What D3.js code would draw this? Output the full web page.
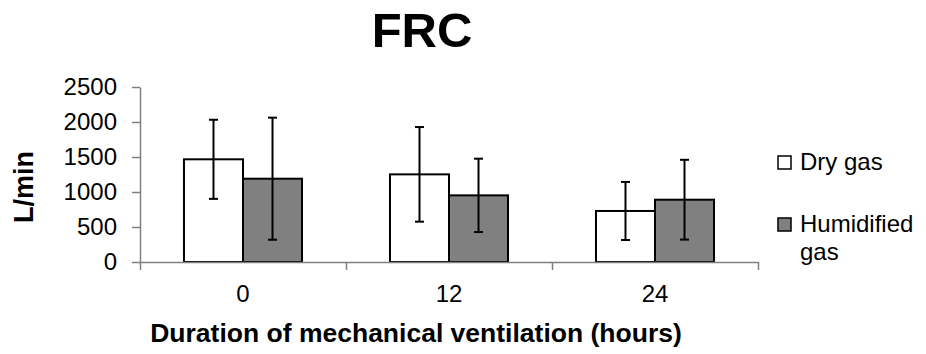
<!DOCTYPE html>
<html>
<head>
<meta charset="utf-8">
<script src="https://cdn.jsdelivr.net/npm/d3@7"></script>
<style>
  html, body { margin: 0; padding: 0; background: #fff; }
  svg { display: block; font-family: "Liberation Sans", Arial, sans-serif; }
</style>
</head>
<body>
<div id="chart"></div>
<script>
// data
var categories = ["0", "12", "24"];
var seriesNames = ["Dry gas", "Humidified gas"];
var dryMeans = [1467, 1252, 729];
var humidMeans = [1190, 952, 890];
var drySD = [565, 676, 415];
var humidSD = [872, 524, 570];
var yTicks = [0, 500, 1000, 1500, 2000, 2500];

var width = 926, height = 354;
var plotLeft = 140, plotRight = 758, plotTop = 87, plotBottom = 262;
var fills = ["#ffffff", "#808080"];
var axisColor = "#808080";

var svg = d3.select("#chart").append("svg")
  .attr("width", width)
  .attr("height", height);

var x0 = d3.scaleBand()
  .domain(categories)
  .range([plotLeft, plotRight])
  .paddingInner(0.427)
  .paddingOuter(0.2135);

var x1 = d3.scaleBand()
  .domain(seriesNames)
  .range([0, x0.bandwidth()]);

var y = d3.scaleLinear()
  .domain([0, 2500])
  .range([plotBottom, plotTop]);

// rows for the bars
var rows = [];
categories.forEach(function(c, i) {
  rows.push({ cat: c, series: seriesNames[0], mean: dryMeans[i], sd: drySD[i], fill: fills[0] });
  rows.push({ cat: c, series: seriesNames[1], mean: humidMeans[i], sd: humidSD[i], fill: fills[1] });
});

// y axis
var yAxis = svg.append("g")
  .attr("transform", "translate(" + plotLeft + ",0)")
  .call(d3.axisLeft(y).tickValues(yTicks).tickFormat(d3.format("d"))
    .tickSize(8).tickSizeOuter(0).tickPadding(15));
yAxis.select(".domain").attr("stroke", axisColor).attr("stroke-width", 1.5);
yAxis.selectAll(".tick line").attr("stroke", axisColor).attr("stroke-width", 1.5);
yAxis.selectAll(".tick text")
  .attr("fill", "#000")
  .style("font-size", "24px");

// bars
svg.append("g").selectAll("rect")
  .data(rows)
  .enter().append("rect")
  .attr("x", function(d) { return x0(d.cat) + x1(d.series); })
  .attr("y", function(d) { return y(d.mean); })
  .attr("width", x1.bandwidth())
  .attr("height", function(d) { return y(0) - y(d.mean); })
  .attr("fill", function(d) { return d.fill; })
  .attr("stroke", "#000")
  .attr("stroke-width", 2);

// x axis: separators between categories
var xSep = d3.scaleLinear().domain([0, categories.length]).range([plotLeft, plotRight]);
var xAxis = svg.append("g")
  .attr("transform", "translate(0," + plotBottom + ")")
  .call(d3.axisBottom(xSep).tickValues(d3.range(categories.length + 1)).tickFormat("").tickSize(8).tickSizeOuter(0));
xAxis.select(".domain").attr("stroke", axisColor).attr("stroke-width", 1.5);
xAxis.selectAll(".tick line").attr("stroke", axisColor).attr("stroke-width", 1.5);

// category labels
var xLabels = svg.append("g")
  .attr("transform", "translate(0," + plotBottom + ")")
  .call(d3.axisBottom(x0).tickSize(0).tickPadding(23));
xLabels.select(".domain").remove();
xLabels.selectAll(".tick text")
  .attr("fill", "#000")
  .style("font-size", "24px");

// error bars
var capW = 9;
var err = svg.append("g").selectAll("g")
  .data(rows)
  .enter().append("g")
  .attr("stroke", "#000")
  .attr("stroke-width", 2);
err.append("line")
  .attr("x1", function(d) { return x0(d.cat) + x1(d.series) + x1.bandwidth() / 2; })
  .attr("x2", function(d) { return x0(d.cat) + x1(d.series) + x1.bandwidth() / 2; })
  .attr("y1", function(d) { return y(d.mean + d.sd); })
  .attr("y2", function(d) { return y(d.mean - d.sd); });
[1, -1].forEach(function(sign) {
  err.append("line")
    .attr("x1", function(d) { return x0(d.cat) + x1(d.series) + x1.bandwidth() / 2 - capW / 2; })
    .attr("x2", function(d) { return x0(d.cat) + x1(d.series) + x1.bandwidth() / 2 + capW / 2; })
    .attr("y1", function(d) { return y(d.mean + sign * d.sd); })
    .attr("y2", function(d) { return y(d.mean + sign * d.sd); });
});

// title
svg.append("text")
  .attr("x", 422)
  .attr("y", 47)
  .attr("text-anchor", "middle")
  .style("font-size", "49px")
  .style("font-weight", "bold")
  .text("FRC");

// axis titles
svg.append("text")
  .attr("transform", "translate(33,187) rotate(-90)")
  .attr("text-anchor", "middle")
  .style("font-size", "27px")
  .style("font-weight", "bold")
  .text("L/min");

svg.append("text")
  .attr("x", 416)
  .attr("y", 342)
  .attr("text-anchor", "middle")
  .style("font-size", "26.5px")
  .style("font-weight", "bold")
  .text("Duration of mechanical ventilation (hours)");

// legend
var legendItems = [
  { lines: ["Dry gas"], fill: fills[0], y: 156 },
  { lines: ["Humidified", "gas"], fill: fills[1], y: 218 }
];
var lg = svg.append("g").selectAll("g")
  .data(legendItems)
  .enter().append("g")
  .attr("transform", function(d) { return "translate(778," + d.y + ")"; });
lg.append("rect")
  .attr("width", 13)
  .attr("height", 13)
  .attr("fill", function(d) { return d.fill; })
  .attr("stroke", "#000")
  .attr("stroke-width", 1.5);
lg.each(function(d) {
  var t = d3.select(this).append("text")
    .attr("x", 22)
    .attr("y", 14)
    .style("font-size", "24px");
  d.lines.forEach(function(line, i) {
    t.append("tspan")
      .attr("x", 22)
      .attr("dy", i === 0 ? 0 : 28)
      .text(line);
  });
});
</script>
</body>
</html>
